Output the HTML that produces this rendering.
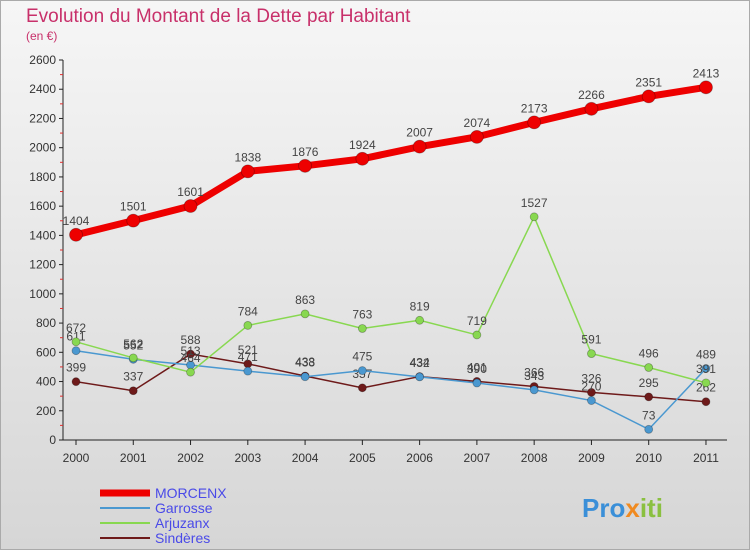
<!DOCTYPE html>
<html><head><meta charset="utf-8"><style>
body{margin:0;width:750px;height:550px;overflow:hidden;font-family:"Liberation Sans",sans-serif}
</style></head><body>
<svg width="750" height="550" xmlns="http://www.w3.org/2000/svg">
<defs><linearGradient id="bg" x1="0" y1="0" x2="0" y2="1"><stop offset="0" stop-color="#f6f6f6"/><stop offset="1" stop-color="#d6d6d6"/></linearGradient></defs>
<rect x="0.5" y="0.5" width="749" height="549" fill="url(#bg)" stroke="#aaa"/>
<text x="26" y="22" font-size="19" fill="#c8306a">Evolution du Montant de la Dette par Habitant</text>
<text x="26" y="40" font-size="12" fill="#c8306a">(en €)</text>
<g id="axes"></g>
<g id="series"></g>
<g id="legend"></g>
<text x="582" y="517" font-size="26" font-weight="bold" fill="#3a8fd8">Pro<tspan fill="#f08a20">x</tspan><tspan fill="#8ac040">iti</tspan></text>
</svg>
<script>
const years=["2000","2001","2002","2003","2004","2005","2006","2007","2008","2009","2010","2011"];
const yTicks=[0,200,400,600,800,1000,1200,1400,1600,1800,2000,2200,2400,2600];
const morcenx=[1404,1501,1601,1838,1876,1924,2007,2074,2173,2266,2351,2413];
const garrosse=[611,552,513,471,433,475,432,390,343,270,73,489];
const arjuzanx=[672,562,464,784,863,763,819,719,1527,591,496,391];
const sinderes=[399,337,588,521,438,357,434,401,366,326,295,262];
const NS="http://www.w3.org/2000/svg";
const X=i=>76+i*57.27, Y=v=>440-v*380/2600;
function mk(t,a,p){const e=document.createElementNS(NS,t);for(const k in a)e.setAttribute(k,a[k]);p.appendChild(e);return e;}
const ax=document.getElementById('axes');
let yl=mk('line',{x1:63,y1:60,x2:63,y2:440,stroke:'#222'},ax);

let xl=mk('line',{x1:63,y1:440,x2:727,y2:440,stroke:'#222'},ax);

yTicks.forEach((v,i)=>{
 mk('line',{x1:59,y1:Y(v),x2:63,y2:Y(v),stroke:'#222'},ax);
 if(i<yTicks.length-1)mk('line',{x1:60,y1:Y(v+100),x2:63,y2:Y(v+100),stroke:'#e03030'},ax);
 const t=mk('text',{x:56,y:Y(v)+4,'font-size':12,'text-anchor':'end',fill:'#333'},ax);t.textContent=v;
 
});
years.forEach((y,i)=>{
 mk('line',{x1:X(i),y1:440,x2:X(i),y2:445,stroke:'#222'},ax);
 const t=mk('text',{x:X(i),y:462,'font-size':12,'text-anchor':'middle',fill:'#333'},ax);t.textContent=y;
 
});
const sg=document.getElementById('series');
function series(vals,color,w,r,name){
 const g=mk('g',{},sg);
 const p=mk('polyline',{points:vals.map((v,i)=>X(i)+','+Y(v)).join(' '),fill:'none',stroke:color,'stroke-width':w},g);
 
 vals.forEach((v,i)=>{
  const c=mk('circle',{cx:X(i),cy:Y(v),r:r,fill:color,stroke:'rgba(0,0,0,0.3)','stroke-width':0.8},g);
  
  const t=mk('text',{x:X(i),y:Y(v)-10,'font-size':12,'text-anchor':'middle',fill:'#444'},g);t.textContent=v;
  
 });
}
series(sinderes,'#6e1a1a',1.5,4,'sinderes');
series(garrosse,'#4a98d0',1.5,4,'garrosse');
series(arjuzanx,'#88d850',1.5,4,'arjuzanx');
series(morcenx,'#ee0000',7,6.5,'morcenx');
const lg=document.getElementById('legend');
[["MORCENX","#ee0000",7],["Garrosse","#4a98d0",2],["Arjuzanx","#88d850",2],["Sindères","#6e1a1a",2]].forEach((d,i)=>{
 const y=493+i*15;
 const g=mk('g',{},lg);
 mk('line',{x1:100,y1:y,x2:150,y2:y,stroke:d[1],'stroke-width':d[2]},g);
 const t=mk('text',{x:155,y:y+5,'font-size':14,fill:'#4a4ae8'},g);t.textContent=d[0];
});
</script>
</body></html>
